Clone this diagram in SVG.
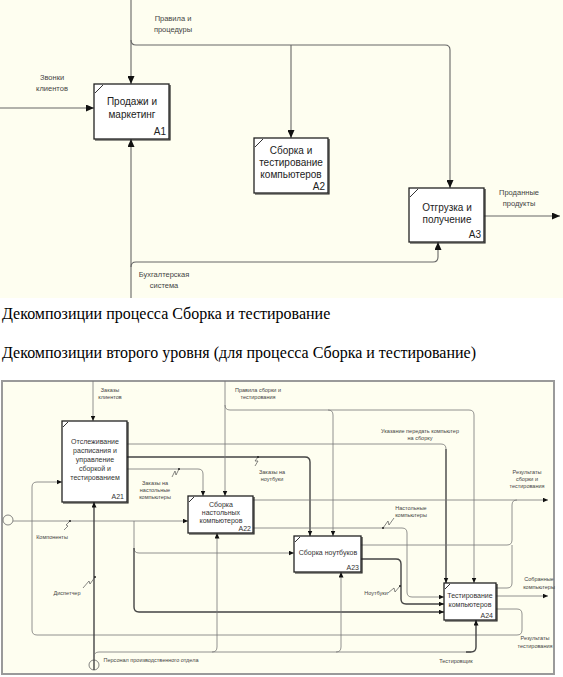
<svg xmlns="http://www.w3.org/2000/svg" width="563" height="677" viewBox="0 0 563 677">
<defs>
<marker id="ah" markerUnits="userSpaceOnUse" markerWidth="9" markerHeight="7" refX="8" refY="3.5" orient="auto"><path d="M0,0 L8,3.5 L0,7 z" fill="#111"/></marker>
<marker id="as" markerUnits="userSpaceOnUse" markerWidth="6" markerHeight="5" refX="5.5" refY="2.5" orient="auto"><path d="M0,0 L5.5,2.5 L0,5 z" fill="#111"/></marker>
</defs>
<style>
.bg{fill:#fefef0}
.frame{fill:#fefef0;stroke:#9a9a9a;stroke-width:2}
.box{fill:#ffffff;stroke:#222;stroke-width:1.3}
.sh{fill:none;stroke:#222;stroke-width:1.2}
.tl{fill:none;stroke:#666;stroke-width:1.1}
.bl{fill:none;stroke:#777;stroke-width:0.8}
.bt{fill:none;stroke:#444;stroke-width:1.4}
.tick{fill:none;stroke:#333;stroke-width:1}
.bx{font-family:"Liberation Sans",Arial,sans-serif;font-size:10px;fill:#222;text-anchor:middle}
.bxn{font-family:"Liberation Sans",Arial,sans-serif;font-size:10px;fill:#222;text-anchor:end}
.lb{font-family:"Liberation Sans",Arial,sans-serif;font-size:7.5px;fill:#444;text-anchor:middle}
.sx{font-family:"Liberation Sans",Arial,sans-serif;font-size:7px;fill:#333;text-anchor:middle}
.sxn{font-family:"Liberation Sans",Arial,sans-serif;font-size:7px;fill:#333;text-anchor:end}
.sl{font-family:"Liberation Sans",Arial,sans-serif;font-size:5.5px;fill:#444;text-anchor:middle}
.cap{font-family:"Liberation Serif","Times New Roman",serif;font-size:16px;fill:#000}
.zz{fill:none;stroke:#555;stroke-width:0.7}
.dot{fill:#222}
</style>

<!-- top diagram -->
<rect class="bg" x="0" y="0" width="563" height="298"/>
<g id="top-connectors">
<path class="tl" d="M131,0 V84" marker-end="url(#ah)"/>
<path class="tl" d="M131,40 Q131,45 136,45 H445 Q450,45 450,50 V188" marker-end="url(#ah)"/>
<path class="tl" d="M291,45 V138" marker-end="url(#ah)"/>
<path class="tl" d="M0,108 H94" marker-end="url(#ah)"/>
<path class="tl" d="M131,298 V139" marker-end="url(#ah)"/>
<path class="tl" d="M131,267 Q131,262 136,262 H433 Q438,262 438,257 V242" marker-end="url(#ah)"/>
<path class="tl" d="M484,216 H560" marker-end="url(#ah)"/>
<text class="lb" x="173" y="21">Правила и</text>
<text class="lb" x="173" y="32">процедуры</text>
<text class="lb" x="52" y="80">Звонки</text>
<text class="lb" x="52" y="91">клиентов</text>
<text class="lb" x="164" y="277">Бухгалтерская</text>
<text class="lb" x="164" y="288">система</text>
<text class="lb" x="519" y="195">Проданные</text>
<text class="lb" x="519" y="206">продукты</text>
</g>
<g id="A1">
<rect class="box" x="94" y="84" width="75" height="55"/>
<path class="sh" d="M170,85 V140 H95"/>
<path class="tick" d="M95,93 L103,85"/>
<text class="bx" x="132" y="105">Продажи и</text>
<text class="bx" x="132" y="118">маркетинг</text>
<text class="bxn" x="166" y="135">A1</text>
</g>
<g id="A2">
<rect class="box" x="254" y="138" width="74" height="55"/>
<path class="sh" d="M329,139 V194 H255"/>
<path class="tick" d="M255,147 L263,139"/>
<text class="bx" x="291" y="154">Сборка и</text>
<text class="bx" x="291" y="166">тестирование</text>
<text class="bx" x="291" y="178">компьютеров</text>
<text class="bxn" x="325" y="190">A2</text>
</g>
<g id="A3">
<rect class="box" x="409" y="188" width="75" height="54"/>
<path class="sh" d="M485,189 V243 H410"/>
<path class="tick" d="M410,197 L418,189"/>
<text class="bx" x="447" y="211">Отгрузка и</text>
<text class="bx" x="447" y="223">получение</text>
<text class="bxn" x="481" y="238">A3</text>
</g>

<!-- captions -->
<text class="cap" x="2" y="319">Декомпозиции процесса Сборка и тестирование</text>
<text class="cap" x="2" y="358">Декомпозиции второго уровня (для процесса Сборка и тестирование)</text>

<!-- bottom diagram -->
<rect class="frame" x="2" y="381" width="552" height="293"/>
<g id="bottom-connectors">
<path class="bl" d="M93,381 V421" marker-end="url(#as)"/>
<circle cx="8" cy="520" r="5" fill="none" stroke="#666" stroke-width="0.8"/>
<path class="bl" d="M13,521 H188" marker-end="url(#as)"/>
<path class="bl" d="M134,521 V548 Q134,553 139,553 H294" marker-end="url(#as)"/>
<path class="bt" d="M134,548 V607 Q134,612 139,612 H444" marker-end="url(#as)"/>
<path class="bl" d="M496,609 H517 Q522,609 522,614 V630 Q522,635 517,635 H37 Q32,635 32,630 V487 Q32,482 37,482 H62" marker-end="url(#as)"/>
<circle cx="94" cy="665" r="5" fill="none" stroke="#666" stroke-width="0.8"/>
<path class="bt" d="M94,670 V502" marker-end="url(#as)"/>
<path class="bl" d="M94,657 Q94,652 99,652 H471" />
<path class="bt" d="M466,652 H471 Q476,652 476,647 V620" marker-end="url(#as)"/>
<path class="bl" d="M212,652 Q217,652 217,647 V533" marker-end="url(#as)"/>
<path class="bl" d="M336,652 Q341,652 341,647 V572" marker-end="url(#as)"/>
<path class="bl" d="M127,444 H441 Q446,444 446,449" />
<path class="bt" d="M446,449 V583" marker-end="url(#as)"/>
<path class="bt" d="M127,457 H305 Q310,457 310,462 V536" marker-end="url(#as)"/>
<path class="bl" d="M127,469 H198 Q203,469 203,474 V496" marker-end="url(#as)"/>
<path class="bl" d="M225,381 V496" marker-end="url(#as)"/>
<path class="bl" d="M225,405 Q225,410 230,410 H469 Q474,410 474,415 V583" marker-end="url(#as)"/>
<path class="bl" d="M328,410 Q333,410 333,415 V536" marker-end="url(#as)"/>
<path class="bl" d="M253,500 H548" marker-end="url(#as)"/>
<path class="bl" d="M361,545 H507 Q512,545 512,540 V505 Q512,500 517,500"/>
<path class="bl" d="M496,588 H507 Q512,588 512,583 V545"/>
<path class="bl" d="M253,528 H402 Q407,528 407,533 V592 Q407,597 412,597 H444" marker-end="url(#as)"/>
<path class="bt" d="M361,559 H396 Q401,559 401,564 V599 Q401,604 406,604 H444" marker-end="url(#as)"/>
<path class="bl" d="M496,596 H548" marker-end="url(#as)"/>
<!-- squiggles -->
<path class="zz" d="M179,469 L176,475 L175,471 L172,477"/><circle class="dot" cx="179" cy="469" r="1"/>
<path class="zz" d="M258,457 L255,461 L258,461 L255,466"/><circle class="dot" cx="258" cy="457" r="1"/>
<path class="zz" d="M383,528 L388,521 L389,525 L394,518"/><circle class="dot" cx="383" cy="528" r="1"/>
<path class="zz" d="M400,586 L395,592 L394,588 L388,593"/><circle class="dot" cx="400" cy="586" r="1"/>
<path class="zz" d="M70,521 L66,525 L68,526 L64,530"/><circle class="dot" cx="70" cy="521" r="1"/>
<path class="zz" d="M95,577 L90,584 L89,581 L83,588"/><circle class="dot" cx="95" cy="577" r="1"/>
<!-- labels -->
<text class="sl" x="110" y="392">Заказы</text>
<text class="sl" x="110" y="399">клиентов</text>
<text class="sl" x="258" y="392">Правила сборки и</text>
<text class="sl" x="258" y="399">тестирования</text>
<text class="sl" x="420" y="433">Указание передать компьютер</text>
<text class="sl" x="420" y="440">на сборку</text>
<text class="sl" x="272" y="474">Заказы на</text>
<text class="sl" x="272" y="481">ноутбуки</text>
<text class="sl" x="155" y="485">Заказы на</text>
<text class="sl" x="155" y="492">настольные</text>
<text class="sl" x="155" y="499">компьютеры</text>
<text class="sl" x="411" y="510">Настольные</text>
<text class="sl" x="411" y="517">компьютеры</text>
<text class="sl" x="527" y="474">Результаты</text>
<text class="sl" x="527" y="481">сборки и</text>
<text class="sl" x="527" y="488">тестирования</text>
<text class="sl" x="52" y="539">Компоненты</text>
<text class="sl" x="67" y="595">Диспетчер</text>
<text class="sl" x="376" y="595">Ноутбуки</text>
<text class="sl" x="539" y="581">Собранные</text>
<text class="sl" x="539" y="589">компьютеры</text>
<text class="sl" x="535" y="640">Результаты</text>
<text class="sl" x="535" y="648">тестирования</text>
<text class="sl" x="151" y="662">Персонал производственного отдела</text>
<text class="sl" x="456" y="663">Тестировщик</text>
</g>
<g id="A21">
<rect class="box" x="62" y="421" width="65" height="81"/>
<path class="sh" d="M128,422 V503 H63"/>
<path class="tick" d="M63,427 L68,422"/>
<text class="sx" x="95" y="444">Отслеживание</text>
<text class="sx" x="95" y="453">расписания и</text>
<text class="sx" x="95" y="462">управление</text>
<text class="sx" x="95" y="471">сборкой и</text>
<text class="sx" x="95" y="480">тестированием</text>
<text class="sxn" x="124" y="499">A21</text>
</g>
<g id="A22">
<rect class="box" x="188" y="496" width="65" height="37"/>
<path class="sh" d="M254,497 V534 H189"/>
<path class="tick" d="M189,502 L194,497"/>
<text class="sx" x="221" y="507">Сборка</text>
<text class="sx" x="221" y="515">настольных</text>
<text class="sx" x="221" y="523">компьютеров</text>
<text class="sxn" x="251" y="531">A22</text>
</g>
<g id="A23">
<rect class="box" x="294" y="536" width="67" height="36"/>
<path class="sh" d="M362,537 V573 H295"/>
<path class="tick" d="M295,542 L300,537"/>
<text class="sx" x="328" y="555">Сборка ноутбуков</text>
<text class="sxn" x="359" y="570">A23</text>
</g>
<g id="A24">
<rect class="box" x="444" y="583" width="52" height="37"/>
<path class="sh" d="M497,584 V621 H445"/>
<path class="tick" d="M445,589 L450,584"/>
<text class="sx" x="470" y="598">Тестирование</text>
<text class="sx" x="470" y="607">компьютеров</text>
<text class="sxn" x="493" y="618">A24</text>
</g>
</svg>
